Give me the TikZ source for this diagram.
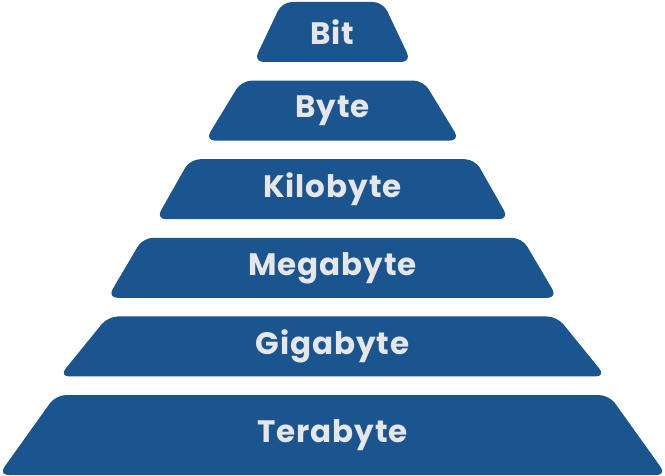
\documentclass[tikz,border=0pt]{standalone}
\usepackage{fontspec}
\setmainfont{Poppins}[LetterSpace=3]
\usepackage{xcolor}
\usetikzlibrary{shapes.geometric, positioning}
\definecolor{tierblue}{HTML}{1A5590}
\definecolor{tiertext}{HTML}{E6E6E6}
\tikzset{
  tier/.style={trapezium, trapezium angle=63.43, trapezium stretches=true,
               fill=tierblue, rounded corners=10pt, inner sep=0pt, outer sep=0pt,
               minimum height=60pt, text=tiertext,
               font=\fontsize{31}{34}\selectfont\bfseries},
}

\begin{document}
\begin{tikzpicture}[x=1pt, y=1pt]
  \useasboundingbox (0,0) rectangle (665,-476);
  \node (bit) [tier, minimum width=158pt] at (332.5,-32) {Bit};
  \node (byte) [tier, minimum width=255pt, below=18.6pt of bit] {Byte};
  \node (kilo) [tier, minimum width=353pt, below=18.6pt of byte] {Kilobyte};
  \node (mega) [tier, minimum width=451pt, below=18.6pt of kilo] {Megabyte};
  \node (giga) [tier, minimum width=547pt, below=18.6pt of mega] {Gigabyte};
  \node (tera) [tier, minimum width=669pt, minimum height=80pt, below=18.6pt of giga] {Terabyte};
\end{tikzpicture}
\end{document}
